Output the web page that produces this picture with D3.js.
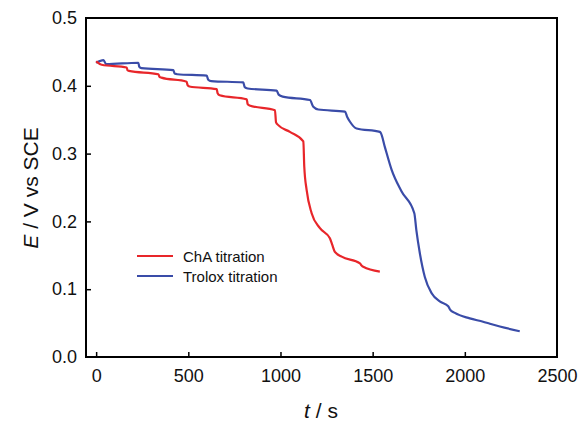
<!DOCTYPE html>
<html lang="en">
<head>
  <meta charset="UTF-8">
  <title>Titration curves</title>
  <script src="https://d3js.org/d3.v7.min.js"></script>
</head>
<style>
  body { margin: 0; background: #fff; }
  svg { font-family: "Liberation Sans", Arial, sans-serif; }
</style>
<body>
<div class="chart"></div>
<script>
  // ChA titration: time (s) and potential (V vs SCE)
  var chaTime = [0, 30, 166, 170, 178, 338, 344, 354, 491, 496, 506, 654, 659, 670, 817, 822, 832, 970, 976, 988, 1051, 1124, 1129, 1142, 1169, 1214, 1268, 1280, 1295, 1332, 1431, 1440, 1449, 1539];
  var chaE = [0.436, 0.431, 0.427, 0.423, 0.422, 0.417, 0.413, 0.412, 0.406, 0.401, 0.399, 0.395, 0.389, 0.386, 0.380, 0.373, 0.371, 0.364, 0.346, 0.342, 0.332, 0.318, 0.281, 0.246, 0.212, 0.190, 0.175, 0.166, 0.155, 0.148, 0.138, 0.135, 0.133, 0.126];

  // Trolox titration
  var troTime = [0, 40, 54, 229, 234, 246, 419, 426, 440, 600, 608, 624, 798, 806, 822, 979, 990, 1012, 1160, 1178, 1205, 1350, 1362, 1377, 1413, 1539, 1545, 1566, 1603, 1657, 1726, 1737, 1756, 1783, 1820, 1864, 1910, 1920, 1946, 2027, 2099, 2136, 2190, 2298];
  var troE = [0.434, 0.438, 0.432, 0.434, 0.428, 0.426, 0.423, 0.418, 0.417, 0.415, 0.409, 0.407, 0.405, 0.398, 0.396, 0.393, 0.387, 0.384, 0.379, 0.369, 0.365, 0.362, 0.354, 0.347, 0.337, 0.332, 0.330, 0.310, 0.276, 0.244, 0.212, 0.187, 0.153, 0.118, 0.094, 0.082, 0.075, 0.070, 0.065, 0.057, 0.052, 0.049, 0.045, 0.038];

  var xTicks = [0, 500, 1000, 1500, 2000, 2500];
  var yTicks = [0.0, 0.1, 0.2, 0.3, 0.4, 0.5];
  var seriesNames = ['ChA titration', 'Trolox titration'];
  var seriesColors = ['#e8262a', '#3a4ca8'];

  var svg = d3.select('.chart').append('svg')
    .attr('width', 581).attr('height', 433);

  var x = d3.scaleLinear().domain([-55, 2500]).range([86, 557]);
  var y = d3.scaleLinear().domain([0, 0.5]).range([357, 18]);

  // frame
  svg.append('rect')
    .attr('x', 86).attr('y', 18).attr('width', 471).attr('height', 339)
    .attr('fill', 'none').attr('stroke', '#000').attr('stroke-width', 2);

  // x axis, ticks point inward
  var xAxis = svg.append('g').attr('transform', 'translate(0,357)')
    .call(d3.axisBottom(x).tickValues(xTicks).tickFormat(d3.format('d')).tickSizeInner(-5).tickSizeOuter(0).tickPadding(12));
  xAxis.select('.domain').remove();
  xAxis.selectAll('line').attr('stroke-width', 1.5);
  xAxis.selectAll('text').attr('font-size', 18).attr('fill', '#111')
    .attr('font-family', '"Liberation Sans", Arial, sans-serif');
  xAxis.selectAll('.tick').filter(function (d) { return d === 2500; }).select('line').remove();

  var yAxis = svg.append('g').attr('transform', 'translate(86,0)')
    .call(d3.axisLeft(y).tickValues(yTicks).tickFormat(d3.format('.1f')).tickSizeInner(-5).tickSizeOuter(0).tickPadding(9));
  yAxis.select('.domain').remove();
  yAxis.selectAll('line').attr('stroke-width', 1.5);
  yAxis.selectAll('text').attr('font-size', 18).attr('fill', '#111')
    .attr('font-family', '"Liberation Sans", Arial, sans-serif');
  yAxis.selectAll('.tick').filter(function (d) { return d === 0 || d === 0.5; }).select('line').remove();

  // lines, monotone so the steps get the soft corners of the original
  var line = d3.line()
    .curve(d3.curveMonotoneX)
    .x(function (d) { return x(d[0]); })
    .y(function (d) { return y(d[1]); });

  var series = [d3.zip(chaTime, chaE), d3.zip(troTime, troE)];
  // draw Trolox first so ChA sits above at the start
  [1, 0].forEach(function (i) {
    svg.append('path')
      .datum(series[i])
      .attr('d', line)
      .attr('fill', 'none')
      .attr('stroke', seriesColors[i])
      .attr('stroke-width', 2.2)
      .attr('stroke-linejoin', 'round');
  });

  // legend
  var legend = svg.append('g').attr('transform', 'translate(137,256)');
  seriesNames.forEach(function (name, i) {
    legend.append('line')
      .attr('x1', 0).attr('x2', 36).attr('y1', i * 20).attr('y2', i * 20)
      .attr('stroke', seriesColors[i]).attr('stroke-width', 2.2);
    legend.append('text')
      .attr('x', 46).attr('y', i * 20 + 5.5)
      .attr('font-size', 15).attr('fill', '#111')
      .text(name);
  });

  // axis titles
  var xt = svg.append('text')
    .attr('x', 321).attr('y', 418)
    .attr('text-anchor', 'middle').attr('font-size', 21).attr('fill', '#111');
  xt.append('tspan').attr('font-style', 'italic').text('t');
  xt.append('tspan').text(' / s');

  var yt = svg.append('text')
    .attr('transform', 'translate(38,188) rotate(-90)')
    .attr('text-anchor', 'middle').attr('font-size', 21).attr('fill', '#111');
  yt.append('tspan').attr('font-style', 'italic').text('E');
  yt.append('tspan').text(' / V vs SCE');
</script>
</body>
</html>
